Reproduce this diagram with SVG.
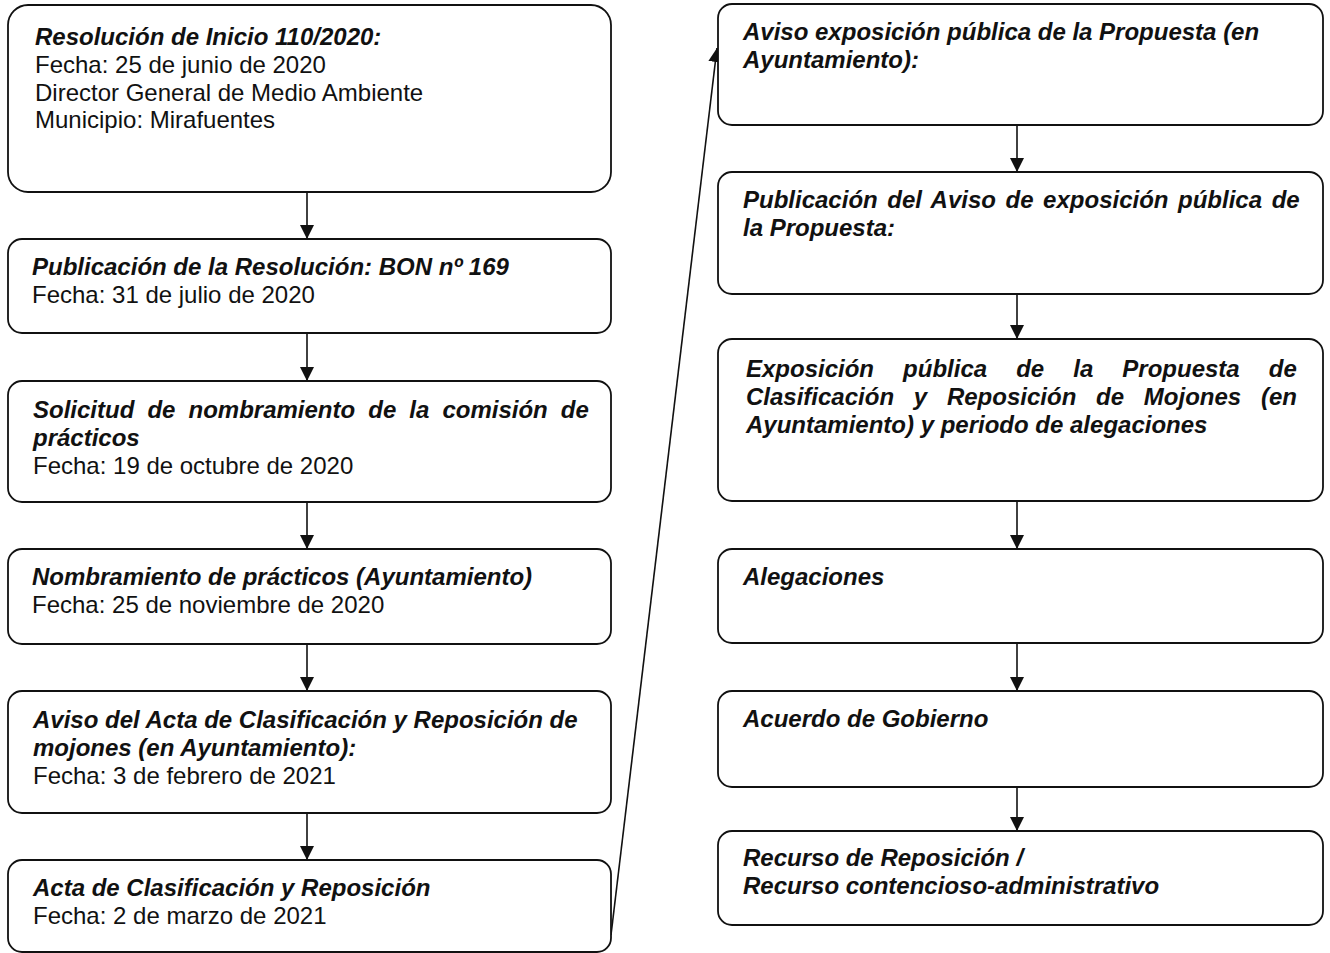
<svg xmlns="http://www.w3.org/2000/svg" width="1330" height="953" viewBox="0 0 1330 953">
<defs>
<style>
.box{fill:#fff;stroke:#111;stroke-width:1.8}
.t{font-family:"Liberation Sans",Arial,sans-serif;font-size:24px;fill:#111}
.b{font-weight:bold;font-style:italic}
.c{stroke:#111;stroke-width:1.6;fill:none}
</style>
<marker id="ah" viewBox="0 0 14 14" refX="14" refY="7" markerWidth="14" markerHeight="14" markerUnits="userSpaceOnUse" orient="auto">
<path d="M0,0 L14,7 L0,14 Z" fill="#111"/>
</marker>
</defs>
<rect width="1330" height="953" fill="#fff"/>
<g id="connectors">
<line class="c" x1="307" y1="192" x2="307" y2="239" marker-end="url(#ah)"/>
<line class="c" x1="307" y1="333" x2="307" y2="381" marker-end="url(#ah)"/>
<line class="c" x1="307" y1="502" x2="307" y2="549" marker-end="url(#ah)"/>
<line class="c" x1="307" y1="644" x2="307" y2="691" marker-end="url(#ah)"/>
<line class="c" x1="307" y1="813" x2="307" y2="860" marker-end="url(#ah)"/>
<line class="c" x1="611" y1="935" x2="717" y2="48" marker-end="url(#ah)"/>
<line class="c" x1="1017" y1="125" x2="1017" y2="172" marker-end="url(#ah)"/>
<line class="c" x1="1017" y1="294" x2="1017" y2="339" marker-end="url(#ah)"/>
<line class="c" x1="1017" y1="501" x2="1017" y2="549" marker-end="url(#ah)"/>
<line class="c" x1="1017" y1="643" x2="1017" y2="691" marker-end="url(#ah)"/>
<line class="c" x1="1017" y1="787" x2="1017" y2="831" marker-end="url(#ah)"/>
</g>
<g id="n1">
<rect class="box" x="8" y="5" width="603" height="187" rx="20"/>
<text class="t b" x="35" y="45">Resolución de Inicio 110/2020:</text>
<text class="t" x="35" y="73">Fecha: 25 de junio de 2020</text>
<text class="t" x="35" y="101">Director General de Medio Ambiente</text>
<text class="t" x="35" y="128">Municipio: Mirafuentes</text>
</g>
<g id="n2">
<rect class="box" x="8" y="239" width="603" height="94" rx="14"/>
<text class="t b" x="32" y="275">Publicación de la Resolución: BON nº 169</text>
<text class="t" x="32" y="303">Fecha: 31 de julio de 2020</text>
</g>
<g id="n3">
<rect class="box" x="8" y="381" width="603" height="121" rx="14"/>
<text class="t b" x="33" y="418" word-spacing="6.4">Solicitud de nombramiento de la comisión de</text>
<text class="t b" x="33" y="446">prácticos</text>
<text class="t" x="33" y="474">Fecha: 19 de octubre de 2020</text>
</g>
<g id="n4">
<rect class="box" x="8" y="549" width="603" height="95" rx="14"/>
<text class="t b" x="32" y="585">Nombramiento de prácticos (Ayuntamiento)</text>
<text class="t" x="32" y="613">Fecha: 25 de noviembre de 2020</text>
</g>
<g id="n5">
<rect class="box" x="8" y="691" width="603" height="122" rx="14"/>
<text class="t b" x="33" y="728">Aviso del Acta de Clasificación y Reposición de</text>
<text class="t b" x="33" y="756">mojones (en Ayuntamiento):</text>
<text class="t" x="33" y="784">Fecha: 3 de febrero de 2021</text>
</g>
<g id="n6">
<rect class="box" x="8" y="860" width="603" height="92" rx="14"/>
<text class="t b" x="33" y="896">Acta de Clasificación y Reposición</text>
<text class="t" x="33" y="924">Fecha: 2 de marzo de 2021</text>
</g>
<g id="n7">
<rect class="box" x="718" y="4" width="605" height="121" rx="14"/>
<text class="t b" x="743" y="40">Aviso exposición pública de la Propuesta (en</text>
<text class="t b" x="743" y="68">Ayuntamiento):</text>
</g>
<g id="n8">
<rect class="box" x="718" y="172" width="605" height="122" rx="14"/>
<text class="t b" x="743" y="208" word-spacing="2.9">Publicación del Aviso de exposición pública de</text>
<text class="t b" x="743" y="236">la Propuesta:</text>
</g>
<g id="n9">
<rect class="box" x="718" y="339" width="605" height="162" rx="14"/>
<text class="t b" x="746" y="377" word-spacing="22.4">Exposición pública de la Propuesta de</text>
<text class="t b" x="746" y="405" word-spacing="13.1">Clasificación y Reposición de Mojones (en</text>
<text class="t b" x="746" y="433">Ayuntamiento) y periodo de alegaciones</text>
</g>
<g id="n10">
<rect class="box" x="718" y="549" width="605" height="94" rx="14"/>
<text class="t b" x="743" y="585">Alegaciones</text>
</g>
<g id="n11">
<rect class="box" x="718" y="691" width="605" height="96" rx="14"/>
<text class="t b" x="743" y="727">Acuerdo de Gobierno</text>
</g>
<g id="n12">
<rect class="box" x="718" y="831" width="605" height="94" rx="14"/>
<text class="t b" x="743" y="866">Recurso de Reposición /</text>
<text class="t b" x="743" y="894">Recurso contencioso-administrativo</text>
</g>
</svg>
